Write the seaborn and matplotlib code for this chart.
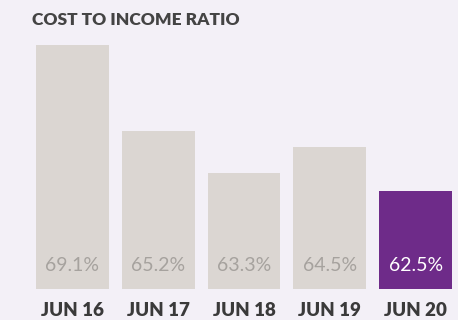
import matplotlib
matplotlib.use("Agg")
import matplotlib.pyplot as plt
import seaborn as sns
import pandas as pd

categories = ["JUN 16", "JUN 17", "JUN 18", "JUN 19", "JUN 20"]
values = [69.1, 65.2, 63.3, 64.5, 62.5]
value_labels = ["69.1%", "65.2%", "63.3%", "64.5%", "62.5%"]
title = "COST TO INCOME RATIO"

bg = "#f3f0f7"
grey = "#dbd6d2"
purple = "#6e2b89"
colors = [grey, grey, grey, grey, purple]

sns.set_theme(style="white")
plt.rcParams['font.family'] = ['Lato', 'DejaVu Sans']

df = pd.DataFrame({"cat": categories, "val": values})

fig = plt.figure(figsize=(4.58, 3.2), dpi=100, facecolor=bg)
W, H = 458, 320
left, right, top, bottom = 29.5, 458.5, 45, 289
ax = fig.add_axes([left / W, 1 - bottom / H, (right - left) / W, (bottom - top) / H])
ax.set_facecolor(bg)

sns.barplot(data=df, x="cat", y="val", hue="cat", palette=colors, legend=False,
            width=0.85, ax=ax, saturation=1, linewidth=0)
ax.set_ylim(58.07, 69.1)
ax.set_xlim(-0.5, 4.5)
for s in ax.spines.values():
    s.set_visible(False)
ax.set_yticks([])
ax.set_xlabel("")
ax.set_ylabel("")
ax.tick_params(axis="x", length=0, pad=9, labelsize=13.5, labelcolor="#3a3a3a")
for t in ax.get_xticklabels():
    t.set_fontweight("heavy")

for i, (lab, c) in enumerate(zip(value_labels, colors)):
    ax.text(i, 58.07 + 1.07, lab, ha="center", va="center", fontsize=14,
            fontweight="normal",
            color="white" if c == purple else "#a6a29e")

fig.text(32 / W, 1 - 20 / H, title, ha="left", va="center", fontsize=12.5,
         fontweight="heavy", color="#444444")

fig.savefig("out.png", dpi=100, facecolor=bg)
